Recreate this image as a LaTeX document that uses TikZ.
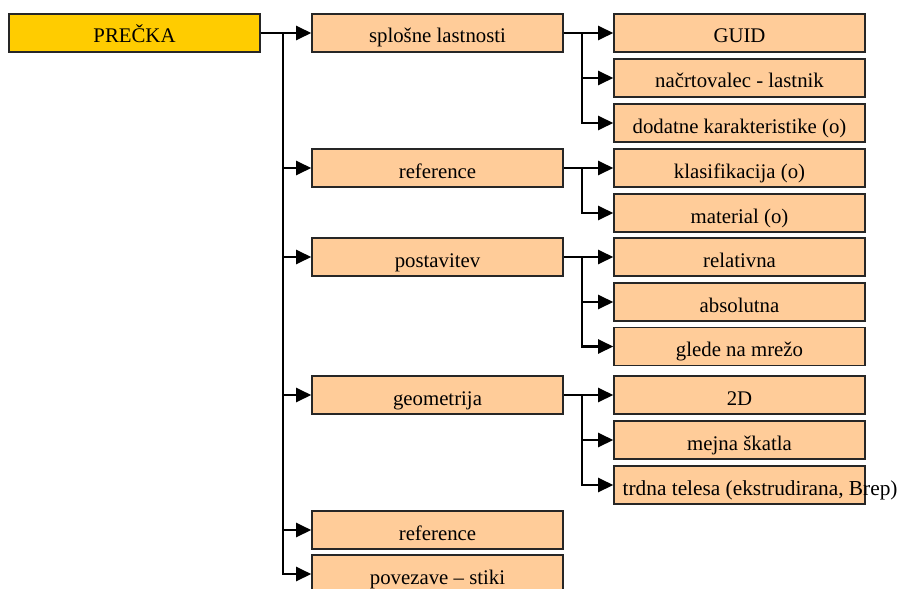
\documentclass[tikz,border=0pt]{standalone}
\usepackage{fontspec}
\setmainfont{Liberation Serif}
\usetikzlibrary{arrows.meta}
\definecolor{rootfill}{HTML}{FFCC00}
\definecolor{boxfill}{HTML}{FFCC99}
\definecolor{boxline}{HTML}{262626}
\tikzset{
  box/.style={draw=boxline, line width=1.2pt, fill=boxfill, rectangle,
    minimum width=188.25pt, minimum height=28.5pt, inner sep=0pt,
    text height=16pt, text depth=1pt,
    font=\fontsize{15.6}{18}\selectfont},
  rootbox/.style={box, fill=rootfill},
  conn/.style={line width=1.8pt, -{Triangle[length=11.25pt,width=10.5pt]}}
}
\begin{document}
\begin{tikzpicture}[x=0.75pt,y=-0.75pt]
\useasboundingbox (0,0) rectangle (898,588);
\clip (0,0) rectangle (898,588);
% root
\node[rootbox] (root) at (134.5,33) {PREČKA};
% level 1
\node[box] (a) at (437.5,33) {splošne lastnosti};
\node[box] (b) at (437.5,168) {reference};
\node[box] (c) at (437.5,257) {postavitev};
\node[box] (d) at (437.5,395) {geometrija};
\node[box] (e) at (437.5,530) {reference};
\node[box] (f) at (437.5,574) {povezave – stiki};
% level 2
\node[box] (a1) at (739.5,33) {GUID};
\node[box] (a2) at (739.5,78) {načrtovalec - lastnik};
\node[box] (a3) at (739.5,123) {dodatne karakteristike (o)};
\node[box] (b1) at (739.5,168) {klasifikacija (o)};
\node[box] (b2) at (739.5,213) {material (o)};
\node[box] (c1) at (739.5,257) {relativna};
\node[box] (c2) at (739.5,302) {absolutna};
\node[box] (c3) at (739.5,346.5) {glede na mrežo};
\node[box] (d1) at (739.5,395) {2D};
\node[box] (d2) at (739.5,440) {mejna škatla};
\node[box] (d3) at (739.5,485) {\makebox[188.25pt][l]{\hspace{6.5pt}\fontsize{16}{18}\selectfont trdna telesa (ekstrudirana, Brep)}};
% trunk coordinates
\coordinate (tr) at (283,33);
\coordinate (ta) at (582,33);
\coordinate (tb) at (582,168);
\coordinate (tc) at (582,257);
\coordinate (td) at (582,395);
% connectors root -> level 1
\foreach \n in {a,b,c,d,e,f}
  \draw[conn] (root.east) -- (tr) |- (\n.west);
% level 1 -> level 2
\foreach \n in {a1,a2,a3}
  \draw[conn] (a.east) -- (ta) |- (\n.west);
\foreach \n in {b1,b2}
  \draw[conn] (b.east) -- (tb) |- (\n.west);
\foreach \n in {c1,c2,c3}
  \draw[conn] (c.east) -- (tc) |- (\n.west);
\foreach \n in {d1,d2,d3}
  \draw[conn] (d.east) -- (td) |- (\n.west);
\end{tikzpicture}
\end{document}
